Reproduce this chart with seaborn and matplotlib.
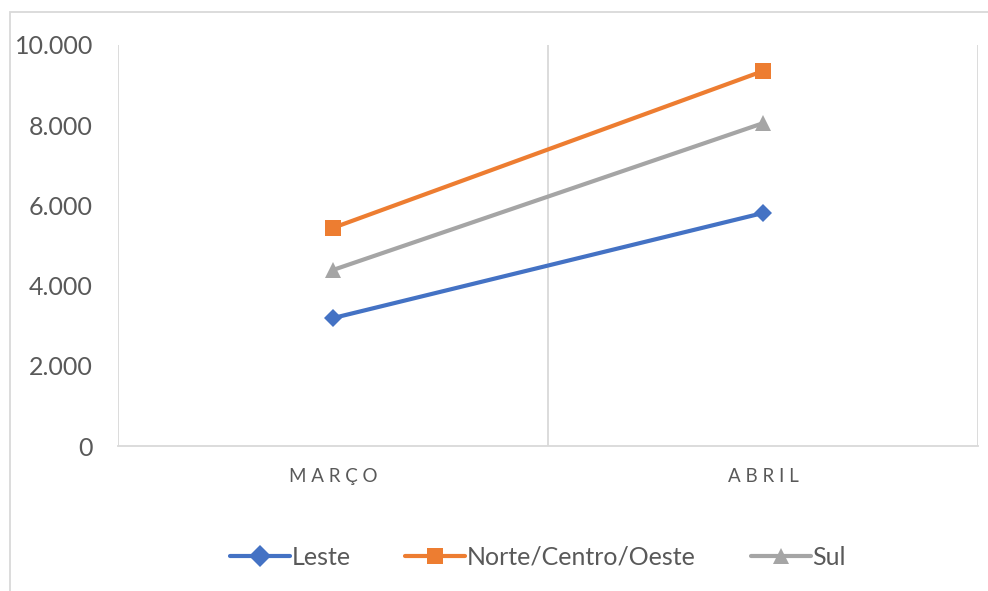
import matplotlib
matplotlib.use("Agg")
import matplotlib.pyplot as plt
import pandas as pd
import seaborn as sns
from matplotlib.patches import Rectangle
from matplotlib.ticker import FuncFormatter

months = ["MARÇO", "ABRIL"]
leste = [3190, 5810]
norte = [5440, 9350]
sul = [4390, 8050]

series = {"Leste": leste, "Norte/Centro/Oeste": norte, "Sul": sul}
data = pd.DataFrame(
    [(m, name, v) for name, vals in series.items() for m, v in zip(months, vals)],
    columns=["Mês", "Região", "Valor"],
)

sns.set_theme(style="white")
plt.rcParams["font.family"] = ["Lato", "DejaVu Sans"]
text_color = "#595959"
grid_color = "#D9D9D9"

fig = plt.figure(figsize=(9.88, 5.91), dpi=100)
ax = fig.add_axes([118 / 988, 1 - 446 / 591, 860 / 988, 401 / 591])

palette = {"Leste": "#4472C4", "Norte/Centro/Oeste": "#ED7D31", "Sul": "#A5A5A5"}
markers = {"Leste": "D", "Norte/Centro/Oeste": "s", "Sul": "^"}
sizes = {"Leste": 9, "Norte/Centro/Oeste": 11, "Sul": 11}
sns.lineplot(
    data=data, x="Mês", y="Valor", hue="Região", style="Região",
    palette=palette, markers=markers, dashes=False, linewidth=3,
    markersize=11, markeredgewidth=0, ax=ax,
)
for line, name in zip(ax.lines, series):
    line.set_markersize(sizes[name])

ax.set_xlim(-0.5, 1.5)
ax.set_ylim(0, 10000)
ax.set_yticks(range(0, 10001, 2000))
ax.yaxis.set_major_formatter(FuncFormatter(lambda v, p: f"{int(v):,}".replace(",", ".")))
ax.set_xticks([0, 1])
ax.set_xticklabels([" ".join(m) for m in months])
ax.set_xticks([-0.5, 0.5, 1.5], minor=True)
ax.grid(False)
ax.grid(True, which="minor", axis="x", color=grid_color, linewidth=1.3)
ax.tick_params(axis="y", length=0, pad=18, labelsize=18, labelcolor=text_color)
ax.tick_params(axis="x", which="both", length=0, pad=16, labelsize=13.5, labelcolor=text_color)
for side in ["top", "right", "left"]:
    ax.spines[side].set_visible(False)
ax.spines["bottom"].set_color(grid_color)
ax.spines["bottom"].set_linewidth(1.3)
ax.set_xlabel("")
ax.set_ylabel("")

sns.move_legend(
    ax, "center", bbox_to_anchor=(0.488, -0.277), ncol=3, frameon=False,
    title=None, fontsize=18, handlelength=2.4, columnspacing=2.2,
    handletextpad=0.05, labelcolor=text_color,
)

fig.patches.append(Rectangle((10 / 988, -0.01), 1, 1 - 12 / 591 + 0.01,
                             transform=fig.transFigure, fill=False,
                             edgecolor=grid_color, linewidth=1.3))

fig.savefig("out.png", dpi=100)
